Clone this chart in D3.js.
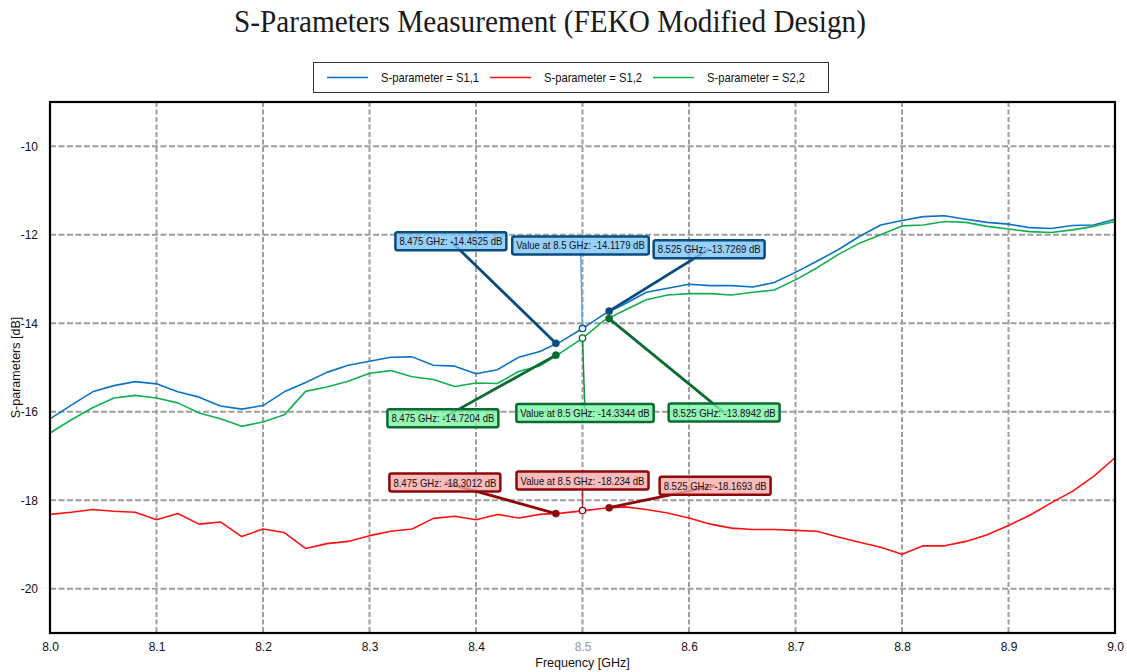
<!DOCTYPE html>
<html>
<head>
<meta charset="utf-8">
<script src="https://cdn.jsdelivr.net/npm/d3@7"></script>
<style>
  html, body { margin: 0; padding: 0; background: #fff; }
  svg { display: block; font-family: "Liberation Sans", Arial, sans-serif; }
</style>
</head>
<body>
<svg id="chart" width="1127" height="672"></svg>
<script>
// Frequency sweep (GHz)
const freqGHz = [8.00, 8.02, 8.04, 8.06, 8.08, 8.10, 8.12, 8.14, 8.16, 8.18,
                 8.20, 8.22, 8.24, 8.26, 8.28, 8.30, 8.32, 8.34, 8.36, 8.38,
                 8.40, 8.42, 8.44, 8.46, 8.48, 8.50, 8.52, 8.54, 8.56, 8.58,
                 8.60, 8.62, 8.64, 8.66, 8.68, 8.70, 8.72, 8.74, 8.76, 8.78,
                 8.80, 8.82, 8.84, 8.86, 8.88, 8.90, 8.92, 8.94, 8.96, 8.98, 9.00];

// S1,1 magnitude (dB)
const s11 = [-16.16, -15.85, -15.55, -15.41, -15.32, -15.37, -15.55, -15.67, -15.87, -15.94,
             -15.86, -15.55, -15.34, -15.11, -14.95, -14.86, -14.77, -14.76, -14.95, -14.97,
             -15.14, -15.05, -14.77, -14.64, -14.41, -14.12, -13.80, -13.56, -13.30, -13.21,
             -13.12, -13.15, -13.15, -13.18, -13.08, -12.85, -12.60, -12.34, -12.04, -11.78,
             -11.68, -11.59, -11.57, -11.65, -11.72, -11.76, -11.84, -11.86, -11.79, -11.78, -11.65];

// S1,2 magnitude (dB)
const s12 = [-18.32, -18.27, -18.21, -18.25, -18.27, -18.44, -18.30, -18.54, -18.49, -18.82,
             -18.65, -18.73, -19.09, -18.98, -18.93, -18.80, -18.70, -18.65, -18.41, -18.36,
             -18.44, -18.32, -18.40, -18.32, -18.29, -18.24, -18.18, -18.15, -18.21, -18.29,
             -18.40, -18.54, -18.63, -18.66, -18.66, -18.68, -18.70, -18.83, -18.95, -19.06,
             -19.22, -19.03, -19.03, -18.93, -18.78, -18.57, -18.34, -18.06, -17.80, -17.46, -17.04];

// S2,2 magnitude (dB)
const s22 = [-16.48, -16.18, -15.91, -15.69, -15.63, -15.69, -15.80, -16.03, -16.16, -16.33,
             -16.23, -16.07, -15.54, -15.44, -15.31, -15.13, -15.07, -15.21, -15.27, -15.43,
             -15.35, -15.36, -15.09, -14.96, -14.66, -14.34, -13.94, -13.70, -13.47, -13.36,
             -13.33, -13.33, -13.36, -13.30, -13.25, -13.02, -12.75, -12.45, -12.19, -12.00,
             -11.80, -11.78, -11.70, -11.72, -11.81, -11.87, -11.93, -11.95, -11.89, -11.81, -11.70];

const seriesNames = ["S-parameter = S1,1", "S-parameter = S1,2", "S-parameter = S2,2"];

// Marker read-outs: [frequency GHz, value dB]
const s11Markers = [[8.475, -14.4525], [8.5, -14.1179], [8.525, -13.7269]];
const s12Markers = [[8.475, -18.3012], [8.5, -18.234], [8.525, -18.1693]];
const s22Markers = [[8.475, -14.7204], [8.5, -14.3344], [8.525, -13.8942]];

const xTicks = [8.0, 8.1, 8.2, 8.3, 8.4, 8.5, 8.6, 8.7, 8.8, 8.9, 9.0];
const yTicks = [-10, -12, -14, -16, -18, -20];

const titleText = "S-Parameters Measurement (FEKO Modified Design)";
const xTitle = "Frequency [GHz]";
const yTitle = "S-parameters [dB]";

// ---------------------------------------------------------------------------
const svg = d3.select("#chart");
const plot = { left: 50, right: 1115, top: 102, bottom: 633 };

const x = d3.scaleLinear().domain([8.0, 9.0]).range([plot.left, plot.right]);
const y = d3.scaleLinear().domain([-21, -9]).range([plot.bottom, plot.top]);

const styles = [
  { line: "#0a72c8", dark: "#0b4c7e", mid: "#5aa8e0", fill: "#7cc3f7" },
  { line: "#ff1010", dark: "#8c0a0a", mid: "#a83030", fill: "#f7aaaa" },
  { line: "#12b050", dark: "#0b6b32", mid: "#1d8a48", fill: "#7df5a6" }
];
const seriesValues = [s11, s12, s22];
const seriesMarkers = [s11Markers, s12Markers, s22Markers];

// Label box centre, offset from its marker in pixels
const boxOffsets = [
  [[-105, -102], [-2, -83], [100, -62]],
  [[-111, -31], [0, -30], [106, -22]],
  [[-113, 63], [2.5, 75], [115, 94]]
];

// Title
svg.append("text")
  .attr("x", 550).attr("y", 32)
  .attr("text-anchor", "middle")
  .attr("font-family", "'Liberation Serif', 'DejaVu Serif', serif")
  .attr("font-size", 31)
  .attr("textLength", 632).attr("lengthAdjust", "spacingAndGlyphs")
  .attr("fill", "#1a1a1a")
  .text(titleText);

// Legend
const legend = svg.append("g");
legend.append("rect")
  .attr("x", 313.5).attr("y", 62.5).attr("width", 515).attr("height", 30)
  .attr("fill", "#fff").attr("stroke", "#333").attr("stroke-width", 1);
const legendX = [327, 490, 653];
seriesNames.forEach((name, i) => {
  legend.append("line")
    .attr("x1", legendX[i]).attr("x2", legendX[i] + 41)
    .attr("y1", 77.5).attr("y2", 77.5)
    .attr("stroke", styles[i].line).attr("stroke-width", 1.6);
  legend.append("text")
    .attr("x", legendX[i] + 54).attr("y", 82)
    .attr("font-size", 13)
    .attr("textLength", 98).attr("lengthAdjust", "spacingAndGlyphs")
    .attr("fill", "#111")
    .text(name);
});

// Grid
const grid = svg.append("g").attr("class", "grid");
grid.selectAll("line.gx").data(xTicks.slice(1, -1)).join("line")
  .attr("x1", d => x(d)).attr("x2", d => x(d))
  .attr("y1", plot.top).attr("y2", plot.bottom)
  .attr("stroke", "#9e9e9e").attr("stroke-width", 2).attr("stroke-dasharray", "5,2.5");
grid.selectAll("line.gy").data(yTicks).join("line")
  .attr("x1", plot.left).attr("x2", plot.right)
  .attr("y1", d => y(d)).attr("y2", d => y(d))
  .attr("stroke", "#9e9e9e").attr("stroke-width", 2).attr("stroke-dasharray", "6,2.5");

// Curves
const lineGen = d3.line().x((d, i) => x(freqGHz[i])).y(d => y(d));
const curves = svg.append("g");
seriesValues.forEach((vals, i) => {
  curves.append("path")
    .attr("d", lineGen(vals))
    .attr("fill", "none")
    .attr("stroke", styles[i].line)
    .attr("stroke-width", 1.6)
    .attr("stroke-linejoin", "round");
});

// Marker annotations
const notes = svg.append("g");
seriesMarkers.forEach((marks, si) => {
  const st = styles[si];
  marks.forEach((m, mi) => {
    const [f, v] = m;
    const mx = x(f), my = y(v);
    const cx = mx + boxOffsets[si][mi][0];
    const cy = my + boxOffsets[si][mi][1];
    const isValue = mi === 1;
    const label = isValue ? `Value at ${f} GHz: ${v} dB` : `${f} GHz: ${v} dB`;

    const g = notes.append("g");
    g.append("line")
      .attr("x1", mx).attr("y1", my).attr("x2", cx).attr("y2", cy)
      .attr("stroke", isValue ? st.mid : st.dark)
      .attr("stroke-width", isValue ? 1.5 : 2.8);

    const t = g.append("text")
      .attr("x", cx).attr("y", cy + 4)
      .attr("text-anchor", "middle")
      .attr("font-size", 11.5)
      .attr("fill", "#111")
      .text(label);
    const natural = t.node().getComputedTextLength();
    const tw = natural * 0.83;
    t.attr("textLength", tw).attr("lengthAdjust", "spacingAndGlyphs");
    const bw = tw + 8, bh = 18;
    g.insert("rect", "text")
      .attr("x", cx - bw / 2).attr("y", cy - bh / 2)
      .attr("width", bw).attr("height", bh)
      .attr("rx", 2)
      .attr("fill", st.fill).attr("fill-opacity", 0.8)
      .attr("stroke", st.dark).attr("stroke-width", 2.5);

    g.append("circle")
      .attr("cx", mx).attr("cy", my)
      .attr("r", isValue ? 3.2 : 3.6)
      .attr("fill", isValue ? "#eef6ff" : st.dark)
      .attr("stroke", st.dark).attr("stroke-width", isValue ? 1.3 : 0.5);
  });
});

// Frame
svg.append("rect")
  .attr("x", plot.left).attr("y", plot.top)
  .attr("width", plot.right - plot.left).attr("height", plot.bottom - plot.top)
  .attr("fill", "none").attr("stroke", "#000").attr("stroke-width", 2.2);

// Axis labels
const xAxis = svg.append("g")
  .attr("transform", `translate(0,${plot.bottom})`)
  .call(d3.axisBottom(x).tickValues(xTicks).tickFormat(d => d.toFixed(1)).tickSize(0).tickPadding(9));
xAxis.select(".domain").remove();
xAxis.selectAll("text")
  .attr("font-family", "'Liberation Sans', Arial, sans-serif")
  .attr("font-size", 12).attr("fill", d => d === 8.5 ? "#9a9a9a" : "#111");

const yAxis = svg.append("g")
  .attr("transform", `translate(${plot.left},0)`)
  .call(d3.axisLeft(y).tickValues(yTicks).tickFormat(d => String(d)).tickSize(0).tickPadding(12));
yAxis.select(".domain").remove();
yAxis.selectAll("text")
  .attr("font-family", "'Liberation Sans', Arial, sans-serif")
  .attr("font-size", 12).attr("fill", "#111");

svg.append("text")
  .attr("x", (plot.left + plot.right) / 2).attr("y", 667)
  .attr("text-anchor", "middle").attr("font-size", 12.5).attr("fill", "#111")
  .text(xTitle);

svg.append("text")
  .attr("transform", `translate(20,${(plot.top + plot.bottom) / 2}) rotate(-90)`)
  .attr("text-anchor", "middle").attr("font-size", 12.5).attr("fill", "#111")
  .text(yTitle);
</script>
</body>
</html>
